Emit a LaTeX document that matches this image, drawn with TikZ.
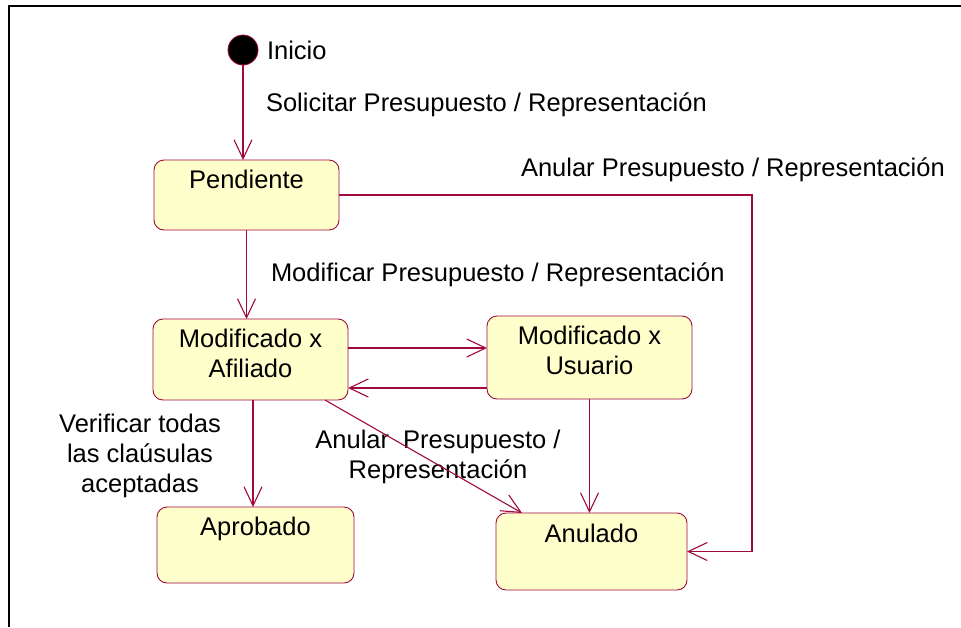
\documentclass[tikz,border=0pt]{standalone}
\usepackage{fontspec}
\setmainfont{Liberation Sans}
\usetikzlibrary{arrows.meta}
\definecolor{crim}{RGB}{160,10,60}
\definecolor{boxfill}{RGB}{255,255,204}
\tikzset{
  x=1pt, y=-1pt,
  every node/.style={font=\fontsize{25.5}{30}\selectfont, inner sep=0pt, outer sep=0pt},
  statebox/.style={draw=crim, fill=boxfill, line width=0.9pt, rounded corners=10pt, rectangle},
  lbl/.style={text=black},
  arr/.style={draw=crim, line width=1.1pt, -{Straight Barb[length=19pt,width=18pt,line width=1.1pt]}},
}
\begin{document}
\begin{tikzpicture}
\useasboundingbox (0,0) rectangle (961,627);
% frame (top and left only)
\draw[line width=2pt] (9,627) -- (9,6) -- (961,6);

% states
\node[circle, fill=black, draw=crim, line width=0.8pt, minimum size=30pt] (init) at (243,50) {};
\node[statebox, minimum width=185pt, minimum height=70pt] (pend) at (246.5,195) {};
\node[statebox, minimum width=195pt, minimum height=81pt] (afil) at (250.5,359.5) {};
\node[statebox, minimum width=205pt, minimum height=83pt] (usu) at (589.5,357.5) {};
\node[statebox, minimum width=197pt, minimum height=76pt] (apro) at (255.5,545) {};
\node[statebox, minimum width=191pt, minimum height=77pt] (anul) at (591.5,551.5) {};

% state texts (multi-line nodes: base = last line's baseline)
\node[lbl, anchor=base] (tpend) at ([yshift=-28pt]pend.north) {Pendiente};
\node[lbl, anchor=base, align=center] (tafil) at (250.5,377) {Modificado x\\Afiliado};
\node[lbl, anchor=base, align=center] (tusu) at (589.5,374) {Modificado x\\Usuario};
\node[lbl, anchor=base] (tapro) at ([yshift=-28pt]apro.north) {Aprobado};
\node[lbl, anchor=base] (tanul) at ([yshift=-29pt]anul.north) {Anulado};

% transition labels
\node[lbl, anchor=base west] (linicio) at (267,59) {Inicio};
\node[lbl, anchor=base west] (lsol) at (266,111) {Solicitar Presupuesto / Representación};
\node[lbl, anchor=base west] (lanul1) at (521,176) {Anular Presupuesto / Representación};
\node[lbl, anchor=base west] (lmod) at (271,281) {Modificar Presupuesto / Representación};
\node[lbl, anchor=base, align=center] (lver) at (140,492) {Verificar todas\\las claúsulas\\aceptadas};
\node[lbl, anchor=base, align=center] (lanul2) at (438,478) {Anular~ Presupuesto /\\Representación};

% connectors
\coordinate (cR) at (752,0);
\draw[arr] (init.south) -- (init.south |- pend.north);
\draw[arr] (pend.east) -- (pend.east -| cR) -- (cR |- anul.east) -- (anul.east);
\draw[arr] (pend.south) -- (pend.south |- afil.north);
\draw[arr] ([yshift=11.5pt]afil.east) -- ([yshift=11.5pt]afil.east -| usu.west);
\draw[arr] ([yshift=-30.5pt]usu.west) -- ([yshift=-30.5pt]usu.west -| afil.east);
\draw[arr] ([xshift=2.5pt]afil.south) -- ([xshift=2.5pt]afil.south |- apro.north);
\draw[arr] ([xshift=74.5pt]afil.south) -- ([xshift=-69.5pt]anul.north);
\draw[arr] (usu.south) -- (usu.south |- anul.north);
\end{tikzpicture}
\end{document}
